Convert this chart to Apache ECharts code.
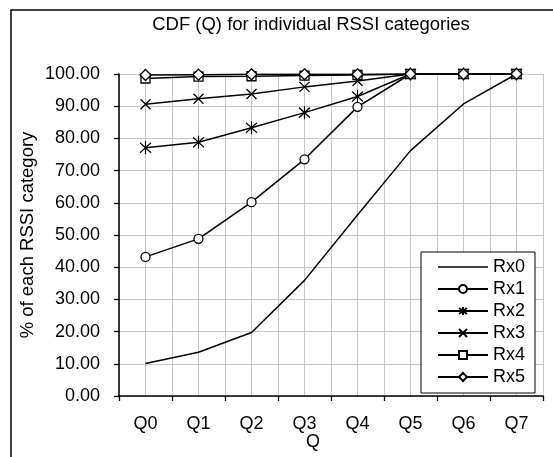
<!DOCTYPE html>
<html>
<head>
<meta charset="utf-8">
<script src="https://cdn.jsdelivr.net/npm/echarts@6/dist/echarts.min.js"></script>
<style>
  html, body { margin: 0; padding: 0; background: #fff; }
  #chart { width: 553px; height: 457px; }
</style>
</head>
<body>
<div id="chart"></div>
<script>
// Quality classes on the x axis
const categories = ['Q0', 'Q1', 'Q2', 'Q3', 'Q4', 'Q5', 'Q6', 'Q7'];

// Cumulative share (%) of each RSSI category up to a given Q
const rx0 = [10.1, 13.6, 19.7, 35.9, 56.2, 76.2, 90.7, 100];
const rx1 = [43.2, 48.8, 60.2, 73.5, 89.8, 100, 100, 100];
const rx2 = [77.1, 78.8, 83.3, 88.0, 93.0, 100, 100, 100];
const rx3 = [90.6, 92.3, 93.8, 96.0, 97.8, 100, 100, 100];
const rx4 = [98.6, 99.2, 99.3, 99.5, 99.7, 100, 100, 100];
const rx5 = [99.7, 99.8, 99.9, 99.9, 99.9, 100, 100, 100];

const yTicks = { min: 0, max: 100, step: 10 };

const FONT = 'Liberation Sans, Arial, sans-serif';
const asterisk = 'path://M0,1.5L10,11.5M10,1.5L0,11.5M5,0L5,13';
const cross = 'path://M0,0L10,10M10,0L0,10';
const plainLine = 'path://M0,0L50,0L50,1.5L0,1.5Z';

function lineSeries(name, data, symbol, size) {
  return {
    name: name,
    type: 'line',
    data: data,
    xAxisIndex: 0,
    symbol: symbol,
    symbolSize: size,
    showSymbol: symbol !== 'none',
    z: 3,
    lineStyle: { color: '#000', width: 1.5 },
    itemStyle: { color: '#fff', borderColor: '#000', borderWidth: 1.3 },
    emphasis: { disabled: true },
    animation: false
  };
}

const chart = echarts.init(document.getElementById('chart'), null, { renderer: 'canvas' });
chart.setOption({
  backgroundColor: '#fff',
  animation: false,
  grid: { left: 119, right: 10, top: 74, bottom: 61, containLabel: false },
  xAxis: [
    {
      type: 'category',
      data: categories,
      boundaryGap: true,
      axisLine: { lineStyle: { color: '#000', width: 1.5 } },
      axisTick: { show: true, length: 5, lineStyle: { color: '#000', width: 1.3 } },
      axisLabel: { color: '#000', fontSize: 18, fontFamily: FONT, margin: 19 },
      splitLine: { show: false },
      z: 2
    },
    {
      // fine vertical grid: category centres and boundaries
      type: 'value',
      min: 0, max: 16, interval: 1,
      position: 'bottom',
      axisLine: { show: false },
      axisTick: { show: false },
      axisLabel: { show: false },
      splitLine: { show: true, lineStyle: { color: '#c8c8c8', width: 1 } },
      z: 0
    }
  ],
  yAxis: {
    type: 'value',
    min: yTicks.min, max: yTicks.max, interval: yTicks.step,
    axisLine: { show: true, lineStyle: { color: '#000', width: 1.5 } },
    axisTick: { show: true, length: 5, lineStyle: { color: '#000', width: 1.3 } },
    axisLabel: {
      color: '#000', fontSize: 18, fontFamily: FONT, margin: 19,
      formatter: v => v.toFixed(2)
    },
    splitLine: { show: true, lineStyle: { color: '#c8c8c8', width: 1 } }
  },
  legend: {
    orient: 'vertical',
    left: 421, top: 252,
    padding: [6, 10, 7, 16],
    itemWidth: 50, itemHeight: 10, itemGap: 4,
    backgroundColor: '#fff',
    borderColor: '#000', borderWidth: 1,
    textStyle: { color: '#000', fontSize: 18, fontFamily: FONT },
    selectedMode: false,
    data: [
      { name: 'Rx0', icon: plainLine, itemStyle: { color: '#000', borderWidth: 0 } },
      'Rx1', 'Rx2', 'Rx3', 'Rx4', 'Rx5'
    ]
  },
  graphic: [
    {
      type: 'rect', silent: true, z: -10,
      shape: { x: 11, y: 10, width: 600, height: 500 },
      style: { fill: 'none', stroke: '#000', lineWidth: 1.5 }
    },
    {
      type: 'text', x: 311, y: 25,
      style: { text: 'CDF (Q) for individual RSSI categories', font: '18.5px ' + FONT, fill: '#000', align: 'center', verticalAlign: 'middle' }
    },
    {
      type: 'text', x: 313, y: 442,
      style: { text: 'Q', font: '18px ' + FONT, fill: '#000', align: 'center', verticalAlign: 'middle' }
    },
    {
      type: 'text', x: 28, y: 235, rotation: Math.PI / 2,
      style: { text: '% of each RSSI category', font: '18.5px ' + FONT, fill: '#000', align: 'center', verticalAlign: 'middle' }
    }
  ],
  series: [
    lineSeries('Rx0', rx0, 'none', 0),
    lineSeries('Rx1', rx1, 'circle', 9),
    lineSeries('Rx2', rx2, asterisk, [11, 13]),
    lineSeries('Rx3', rx3, cross, 10),
    lineSeries('Rx4', rx4, 'rect', 9),
    lineSeries('Rx5', rx5, 'diamond', 11)
  ]
});
</script>
</body>
</html>
